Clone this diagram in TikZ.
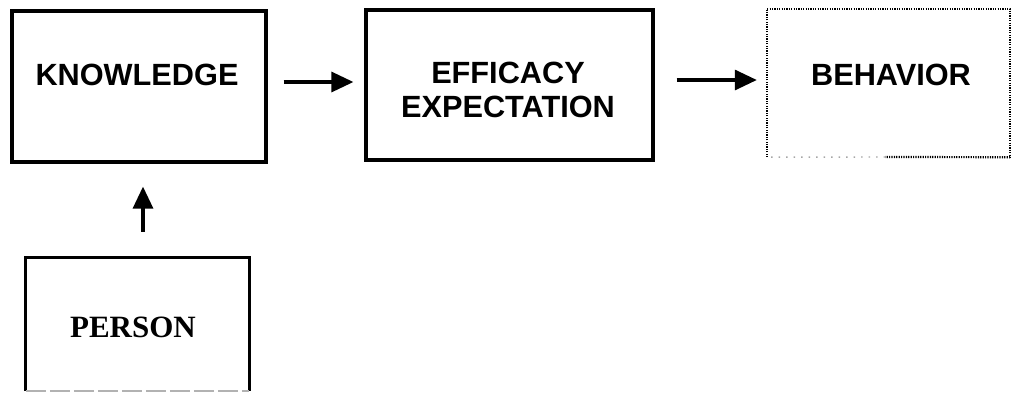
\documentclass[tikz,border=0pt]{standalone}
\usepackage{fontspec}
\setsansfont{Liberation Sans}
\setmainfont{Liberation Serif}
\usetikzlibrary{arrows.meta}
\tikzset{
  boxshape/.style={rectangle, draw, line width=3.2pt, inner sep=0pt},
  boxbare/.style={rectangle, draw=none, inner sep=0pt},
  lbl/.style={font=\sffamily\bfseries\fontsize{30.7}{34}\selectfont, inner sep=0pt, align=center},
  serlbl/.style={font=\rmfamily\bfseries\fontsize{31}{34}\selectfont, inner sep=0pt},
  arr/.style={line width=3.2pt, -{Triangle[length=22pt,width=20pt]}},
  dotline/.style={line width=2.2pt, dash pattern=on 1.2pt off 1.2pt},
}
\begin{document}
\begin{tikzpicture}[x=1pt,y=-1pt]
\useasboundingbox (0,0) rectangle (1014,392);
% boxes
\node[boxshape, minimum width=254pt, minimum height=151pt] (know) at (139,86.5) {};
\node[boxshape, minimum width=287pt, minimum height=150pt] (eff) at (509.5,85) {};
\node[boxbare, minimum width=243pt, minimum height=148pt] (beh) at (888.5,83) {};
\node[boxbare, minimum width=223pt, minimum height=133pt] (pers) at (137.5,324.5) {};
% behavior dotted outline
\draw[dotline] (beh.south west) -- (beh.north west) -- (beh.north east) -- (beh.south east);
\coordinate (bm) at (885,157);
\draw[dotline] (beh.south east) -- (bm);
\draw[line width=1.4pt, gray!70, dash pattern=on 1.5pt off 6pt] (bm) -- (beh.south west);
% person outline
\draw[line width=3.2pt] (pers.south west) -- (pers.north west) -- (pers.north east) -- (pers.south east);
\draw[line width=1.6pt, gray!60, dash pattern=on 20pt off 4pt] (pers.south west) -- (pers.south east);
% labels
\node[lbl, anchor=base] (knowt) at (137,85) {KNOWLEDGE};
\node[lbl] (efft) at (508,89.5) {EFFICACY\\EXPECTATION};
\node[lbl, anchor=base] (beht) at (891,85) {BEHAVIOR};
\node[serlbl, anchor=base] (perst) at (133,337) {PERSON};
% connectors
\coordinate (r1) at (0,82);
\coordinate (r2) at (0,80);
\coordinate (c1) at (143,0);
\draw[arr, shorten <=16pt, shorten >=11pt] (know.east |- r1) -- (eff.west |- r1);
\draw[arr, shorten <=22pt, shorten >=10pt] (eff.east |- r2) -- (beh.west |- r2);
\draw[arr, shorten <=26pt, shorten >=23pt] (c1 |- pers.north) -- (c1 |- know.south);
\end{tikzpicture}
\end{document}
